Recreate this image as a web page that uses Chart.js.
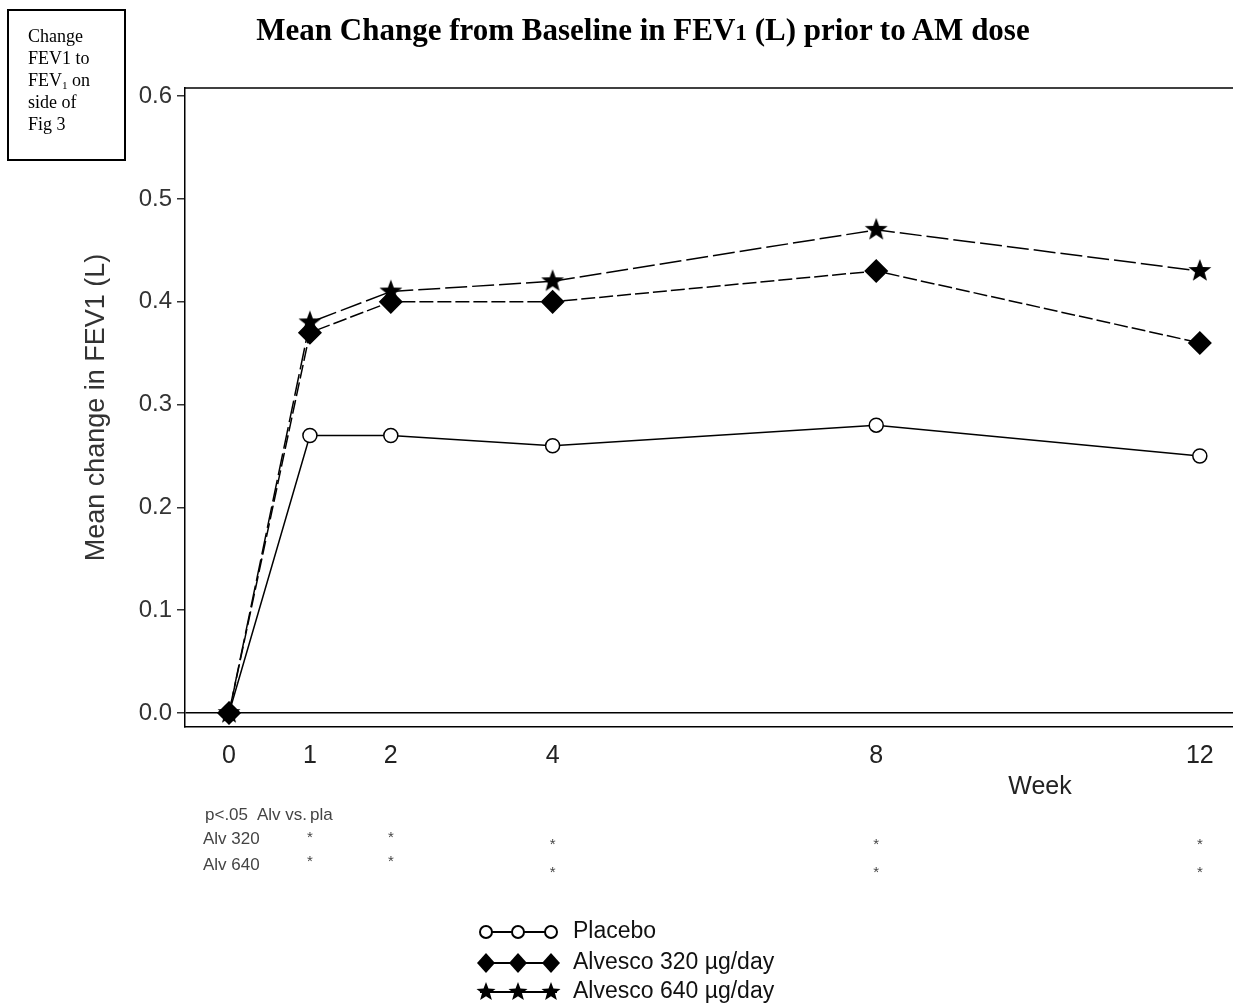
<!DOCTYPE html>
<html>
<head>
<meta charset="utf-8">
<script src="https://cdn.jsdelivr.net/npm/chart.js@4.4.1/dist/chart.umd.min.js"></script>
<style>
  html, body { margin: 0; background: #fff; overflow: hidden; }
  #wrap { position: relative; width: 1233px; height: 1007px; overflow: hidden; }
  #chart { position: absolute; left: 0; top: 0; }
  #note {
    position: absolute; left: 7px; top: 9px; width: 96px; height: 134px;
    border: 2px solid #000; padding: 14px 0 0 19px;
    font: 18px/22px "Liberation Serif", "Times New Roman", serif; color: #000;
  }
  #title {
    position: absolute; left: 0; top: 12px; width: 1286px; text-align: center;
    font: bold 31px "Liberation Serif", "Times New Roman", serif; color: #000;
  }
  sub { font-size: 0.62em; vertical-align: -0.25em; line-height: 0; }
</style>
</head>
<body>
<div id="wrap">
  <canvas id="chart" width="1233" height="1007"></canvas>
  <div id="title">Mean Change from Baseline in FEV<span style="font-size:0.75em">1</span> (L) prior to AM dose</div>
  <div id="note">Change<br>FEV1 to<br>FEV<sub>1</sub> on<br>side of<br>Fig 3</div>
</div>
<script>
// data
var weeks = [0, 1, 2, 4, 8, 12];
var placebo = [0, 0.27, 0.27, 0.26, 0.28, 0.25];
var alv320 = [0, 0.37, 0.40, 0.40, 0.43, 0.36];
var alv640 = [0, 0.38, 0.41, 0.42, 0.47, 0.43];
var yTicks = [0, 0.1, 0.2, 0.3, 0.4, 0.5, 0.6];
var seriesNames = ["Placebo", "Alvesco 320 \u00b5g/day", "Alvesco 640 \u00b5g/day"];
// significance marks (weeks with p<.05 vs placebo)
var sig320 = [1, 2, 4, 8, 12];
var sig640 = [1, 2, 4, 8, 12];

function starPath(ctx, cx, cy, r) {
    ctx.beginPath();
    for (var i = 0; i < 10; i++) {
        var rr = i % 2 === 0 ? r : r * 0.42;
        var a = -Math.PI / 2 + i * Math.PI / 5;
        ctx.lineTo(cx + rr * Math.cos(a), cy + rr * Math.sin(a));
    }
    ctx.closePath();
}
function makeStar(r) {
    var c = document.createElement("canvas");
    c.width = c.height = r * 2 + 2;
    var g = c.getContext("2d");
    starPath(g, r + 1, r + 1, r);
    g.fillStyle = "#000";
    g.fill();
    return c;
}
var starImg = makeStar(12);

function pts(vals) {
    return weeks.map(function (w, i) { return { x: w, y: vals[i] }; });
}

var extras = {
    id: "extras",
    afterDraw: function (chart) {
        var ctx = chart.ctx, a = chart.chartArea, xs = chart.scales.x;
        ctx.save();
        // top border
        ctx.strokeStyle = "#000";
        ctx.lineWidth = 1.5;
        ctx.beginPath();
        ctx.moveTo(a.left, a.top);
        ctx.lineTo(a.right, a.top);
        ctx.stroke();

        // x tick labels
        ctx.fillStyle = "#222";
        ctx.font = '25px "Liberation Sans Narrow", "Liberation Sans", Arial';
        ctx.textAlign = "center";
        ctx.textBaseline = "middle";
        weeks.forEach(function (w) {
            ctx.fillText(String(w), xs.getPixelForValue(w), 756);
        });
        ctx.fillText("Week", 1040, 787);

        // p-value table
        ctx.fillStyle = "#444";
        ctx.font = '17px "Liberation Sans Narrow", "Liberation Sans", Arial';
        ctx.textAlign = "left";
        ctx.fillText("p<.05", 205, 815);
        ctx.fillText("Alv vs.", 257, 815);
        ctx.fillText("pla", 310, 815);
        ctx.fillText("Alv 320", 203, 839);
        ctx.fillText("Alv 640", 203, 865);
        ctx.textAlign = "center";
        ctx.font = '15px "Liberation Sans", Arial';
        sig320.forEach(function (w) {
            ctx.fillText("*", xs.getPixelForValue(w), w <= 2 ? 838 : 845);
        });
        sig640.forEach(function (w) {
            ctx.fillText("*", xs.getPixelForValue(w), w <= 2 ? 862 : 873);
        });

        // legend
        var rows = [932, 963, 992];
        var mx = [486, 518, 551];
        ctx.strokeStyle = "#000";
        ctx.lineWidth = 2;
        rows.forEach(function (y, k) {
            ctx.beginPath();
            ctx.moveTo(480, y);
            ctx.lineTo(557, y);
            ctx.stroke();
            mx.forEach(function (x) {
                if (k === 0) {
                    ctx.beginPath();
                    ctx.arc(x, y, 6, 0, Math.PI * 2);
                    ctx.fillStyle = "#fff";
                    ctx.fill();
                    ctx.stroke();
                } else if (k === 1) {
                    ctx.beginPath();
                    ctx.moveTo(x, y - 10);
                    ctx.lineTo(x + 9, y);
                    ctx.lineTo(x, y + 10);
                    ctx.lineTo(x - 9, y);
                    ctx.closePath();
                    ctx.fillStyle = "#000";
                    ctx.fill();
                } else {
                    starPath(ctx, x, y, 10);
                    ctx.fillStyle = "#000";
                    ctx.fill();
                }
            });
            ctx.fillStyle = "#111";
            ctx.font = '23px "Liberation Sans", Arial';
            ctx.textAlign = "left";
            ctx.fillText(seriesNames[k], 573, y);
        });
        ctx.restore();
    }
};

new Chart(document.getElementById("chart").getContext("2d"), {
    type: "scatter",
    data: {
        datasets: [
            {
                label: seriesNames[0],
                data: pts(placebo),
                order: 2,
                showLine: true,
                borderColor: "#000",
                borderWidth: 1.5,
                pointStyle: "circle",
                pointRadius: 7,
                pointBackgroundColor: "#fff",
                pointBorderColor: "#000",
                pointBorderWidth: 1.5
            },
            {
                label: seriesNames[1],
                data: pts(alv320),
                order: 0,
                showLine: true,
                borderColor: "#000",
                borderWidth: 1.5,
                borderDash: [14, 4],
                pointStyle: "rectRot",
                pointRadius: 11,
                pointBackgroundColor: "#000",
                pointBorderColor: "#000"
            },
            {
                label: seriesNames[2],
                data: pts(alv640),
                order: 1,
                showLine: true,
                borderColor: "#000",
                borderWidth: 1.5,
                borderDash: [22, 5],
                pointStyle: starImg,
                pointRadius: 12
            }
        ]
    },
    options: {
        responsive: false,
        animation: false,
        layout: { autoPadding: false, padding: { top: 88, left: 0, right: 0, bottom: 0 } },
        plugins: { legend: { display: false }, tooltip: { enabled: false } },
        scales: {
            x: {
                type: "linear",
                min: -0.544,
                max: 12.41,
                afterFit: function (s) { s.height = 280; },
                afterBuildTicks: function (s) {
                    s.ticks = weeks.map(function (w) { return { value: w }; });
                },
                border: { display: true, color: "#000", width: 1.5 },
                grid: { display: false, drawTicks: false },
                ticks: { display: false }
            },
            y: {
                min: -0.0136,
                max: 0.608,
                afterFit: function (s) { s.width = 185; },
                afterBuildTicks: function (s) {
                    s.ticks = yTicks.map(function (v) { return { value: v }; });
                },
                border: { display: true, color: "#000", width: 1.5 },
                grid: {
                    color: function (c) { return c.tick && c.tick.value === 0 ? "#000" : "rgba(0,0,0,0)"; },
                    lineWidth: 1.5,
                    tickColor: "#333",
                    tickLength: 8
                },
                ticks: {
                    padding: 5,
                    color: "#333",
                    font: { family: '"Liberation Sans", Arial', size: 24 },
                    callback: function (v) { return v.toFixed(1); }
                },
                title: {
                    display: true,
                    text: "Mean change in FEV1 (L)",
                    color: "#333",
                    padding: { top: 80, bottom: 0 },
                    font: { family: '"Liberation Sans", Arial', size: 27 }
                }
            }
        }
    },
    plugins: [extras]
});
</script>
</body>
</html>
